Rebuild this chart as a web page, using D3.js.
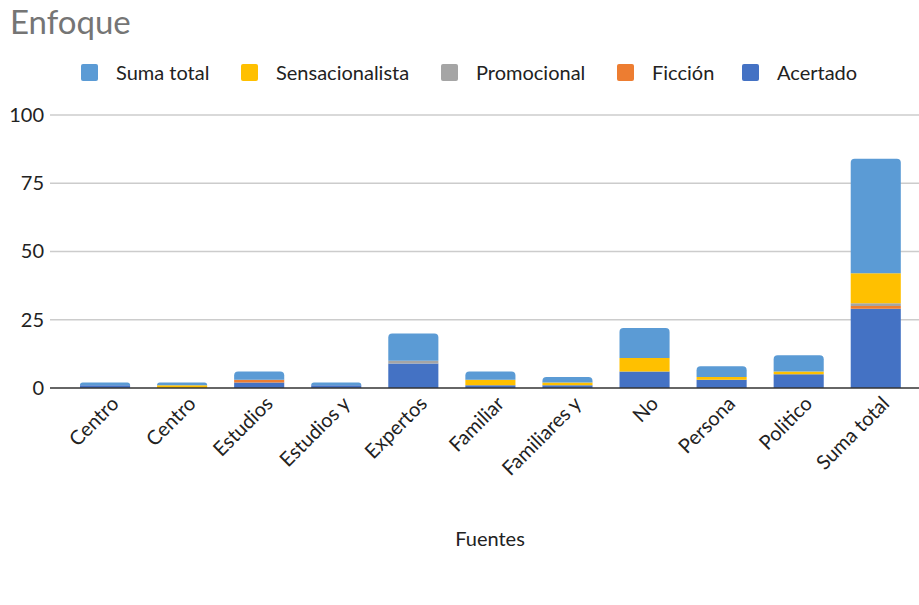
<!DOCTYPE html>
<html><head><meta charset="utf-8">
<script src="https://cdn.jsdelivr.net/npm/d3@7"></script>
<style>body{margin:0;background:#fff;} svg{display:block;font-family:Lato,"Open Sans",sans-serif;}</style>
</head><body><svg id="c" width="919" height="605"></svg>
<script>
const categories = ["Centro","Centro","Estudios","Estudios y","Expertos","Familiar","Familiares y","No","Persona","Politico","Suma total"];
const acertado        = [1,0,2,1,9,1,1,6,3,5,29];
const ficcion         = [0,0,1,0,0,0,0,0,0,0,1];
const promocional     = [0,0,0,0,1,0,0,0,0,0,1];
const sensacionalista = [0,1,0,0,0,2,1,5,1,1,11];
const sumaTotal       = [1,1,3,1,10,3,2,11,4,6,42];
const yTicks = [0,25,50,75,100];
const seriesNames = ["Acertado","Ficción","Promocional","Sensacionalista","Suma total"];
const legendOrder = ["Suma total","Sensacionalista","Promocional","Ficción","Acertado"];
const colors = {"Acertado":"#4472C4","Ficción":"#ED7D31","Promocional":"#A5A5A5","Sensacionalista":"#FFC000","Suma total":"#5B9BD5"};
const seriesValues = {"Acertado":acertado,"Ficción":ficcion,"Promocional":promocional,"Sensacionalista":sensacionalista,"Suma total":sumaTotal};

const svg = d3.select("#c");
const table = categories.map((c,i)=>{const r={idx:i,cat:c}; seriesNames.forEach(s=>r[s]=seriesValues[s][i]); return r;});

const y = d3.scaleLinear().domain([0,100]).range([388,115]);
const n = categories.length;
const x = d3.scaleBand().domain(d3.range(n)).range([66.5,914.3]).paddingInner(0.35).paddingOuter(0.175);

svg.append("g").selectAll("line").data(yTicks.filter(d=>d>0)).join("line")
  .attr("x1",50).attr("x2",919).attr("y1",d=>y(d)).attr("y2",d=>y(d))
  .attr("stroke","#cccccc").attr("stroke-width",1.5);

const yAxis = d3.axisLeft(y).tickValues(yTicks).tickSize(0).tickPadding(0);
const ya = svg.append("g").attr("transform","translate(44,0)").call(yAxis);
ya.select(".domain").remove();
ya.selectAll("text").attr("font-size",20).attr("fill","#222").attr("font-family","Lato,sans-serif");

const stack = d3.stack().keys(seriesNames);
const stacked = stack(table);
const topIdx = table.map(r=>{let t=-1; seriesNames.forEach((s,k)=>{if(r[s]>0)t=k;}); return t;});
const g = svg.append("g");
stacked.forEach((layer,k)=>{
  g.append("g").attr("fill",colors[layer.key]).selectAll("path").data(layer.filter(d=>d[1]>d[0])).join("path")
   .attr("d",d=>{
     const i=d.data.idx, x0=x(i), w=x.bandwidth(), y0=y(d[0]), y1=y(d[1]);
     const r = (topIdx[i]===k)?Math.min(4,(y0-y1)):0;
     return `M${x0},${y0}V${y1+r}Q${x0},${y1} ${x0+r},${y1}H${x0+w-r}Q${x0+w},${y1} ${x0+w},${y1+r}V${y0}Z`;
   });
});

svg.append("line").attr("x1",50).attr("x2",919).attr("y1",y(0)).attr("y2",y(0)).attr("stroke","#333").attr("stroke-width",1.5);

const xa = svg.append("g").attr("transform",`translate(0,${y(0)})`).call(d3.axisBottom(x).tickSize(0).tickFormat(i=>categories[i]));
xa.select(".domain").remove();
xa.selectAll("text").attr("font-size",20).attr("fill","#222").attr("font-family","Lato,sans-serif")
  .attr("text-anchor","end").attr("transform","translate(10,12) rotate(-45)").attr("dy","0.35em").attr("y",0);

svg.append("text").attr("x",10).attr("y",34).attr("font-size",33).attr("fill","#757575").attr("font-family","Lato,sans-serif").text("Enfoque");

const legX = [81,241,441,617,742];
const lg = svg.append("g");
legendOrder.forEach((s,i)=>{
  lg.append("rect").attr("x",legX[i]).attr("y",64).attr("width",17).attr("height",17).attr("rx",2).attr("fill",colors[s]);
  lg.append("text").attr("x",legX[i]+35).attr("y",80).attr("font-size",20).attr("fill","#222").attr("font-family","Lato,sans-serif").text(s);
});

svg.append("text").attr("x",490).attr("y",546).attr("text-anchor","middle").attr("font-size",20).attr("fill","#222").attr("font-family","Lato,sans-serif").text("Fuentes");
</script></body></html>
